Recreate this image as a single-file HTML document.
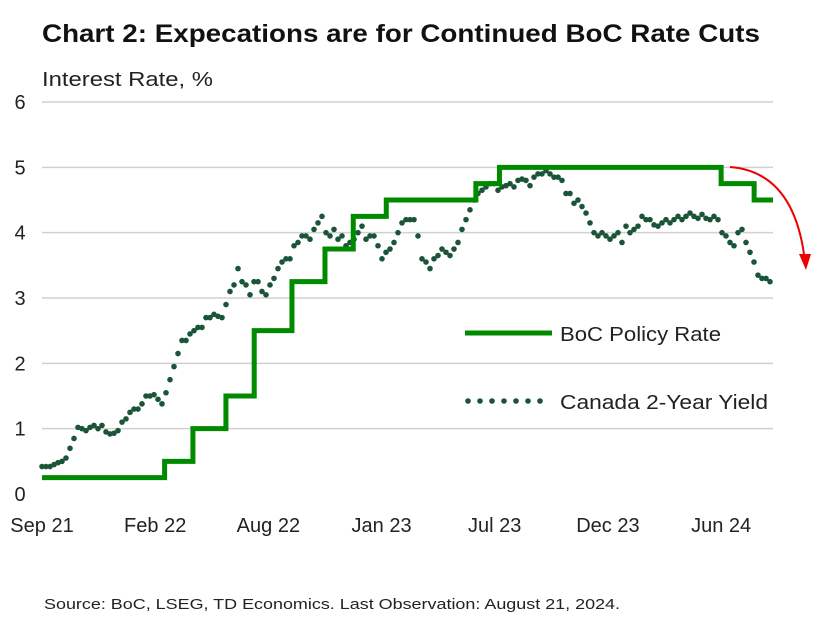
<!DOCTYPE html>
<html><head><meta charset="utf-8"><style>
body{margin:0;background:#fff;}
svg text{font-family:"Liberation Sans",sans-serif;}
</style></head><body>
<svg width="827" height="617" viewBox="0 0 827 617" xmlns="http://www.w3.org/2000/svg">
<text x="42" y="42" font-size="25" font-weight="bold" fill="#111" textLength="718" lengthAdjust="spacingAndGlyphs">Chart 2: Expecations are for Continued BoC Rate Cuts</text>
<text x="42" y="86" font-size="20" fill="#222" textLength="171" lengthAdjust="spacingAndGlyphs">Interest Rate, %</text>
<g id="grid"></g><g id="ylabels"></g><g id="xlabels"></g>
<g id="yield"></g>
<path id="policy" fill="none" stroke="#008a00" stroke-width="5"/>
<g>
<line x1="465" y1="333" x2="552" y2="333" stroke="#008a00" stroke-width="5"/>
<text x="560" y="341" font-size="20" fill="#222" textLength="161" lengthAdjust="spacingAndGlyphs">BoC Policy Rate</text>
<g id="legdots"></g>
<text x="560" y="409" font-size="20" fill="#222" textLength="208" lengthAdjust="spacingAndGlyphs">Canada 2-Year Yield</text>
</g>
<path d="M730,167 Q795,172 805,262" fill="none" stroke="#e00" stroke-width="2"/>
<polygon points="799,254 811,254 806,270" fill="#e00"/>
<text x="44" y="609" font-size="15" fill="#222" textLength="576" lengthAdjust="spacingAndGlyphs">Source: BoC, LSEG, TD Economics. Last Observation: August 21, 2024.</text>
</svg>
<script>
const yTicks=[0,1,2,3,4,5,6];
const xTickDays=[0,168,336,504,672,840,1008];
const xTickLabels=["Sep 21","Feb 22","Aug 22","Jan 23","Jul 23","Dec 23","Jun 24"];
const policyDays=[0,182,224,273,315,371,420,462,511,644,679,1008,1057,1085];
const policyRates=[0.25,0.5,1.0,1.5,2.5,3.25,3.75,4.25,4.5,4.75,5.0,4.75,4.5,4.5];
const yieldStepDays=5.937;
const yieldValues=[0.42,0.42,0.42,0.45,0.48,0.5,0.55,0.7,0.85,1.02,1.0,0.97,1.02,1.05,1.0,1.05,0.95,0.92,0.93,0.97,1.1,1.15,1.25,1.3,1.3,1.38,1.5,1.5,1.52,1.45,1.38,1.55,1.75,1.95,2.15,2.35,2.35,2.45,2.5,2.55,2.55,2.7,2.7,2.75,2.72,2.7,2.9,3.1,3.2,3.45,3.25,3.2,3.05,3.25,3.25,3.1,3.05,3.2,3.3,3.45,3.55,3.6,3.6,3.8,3.85,3.95,3.95,3.9,4.05,4.15,4.25,4.0,3.95,4.05,3.9,3.95,3.8,3.85,3.9,4.0,4.1,3.9,3.95,3.95,3.8,3.6,3.7,3.75,3.85,4.0,4.15,4.2,4.2,4.2,3.95,3.6,3.55,3.45,3.6,3.65,3.75,3.7,3.65,3.75,3.85,4.05,4.2,4.35,4.5,4.6,4.65,4.7,4.75,4.75,4.65,4.7,4.72,4.75,4.7,4.8,4.82,4.8,4.72,4.85,4.9,4.9,4.95,4.9,4.85,4.85,4.8,4.6,4.6,4.45,4.5,4.4,4.3,4.15,4.0,3.95,4.0,3.95,3.9,3.95,4.0,3.85,4.1,4.0,4.05,4.1,4.25,4.2,4.2,4.12,4.1,4.15,4.2,4.15,4.2,4.25,4.2,4.25,4.3,4.25,4.22,4.28,4.22,4.2,4.25,4.2,4.0,3.95,3.85,3.8,4.0,4.05,3.85,3.7,3.55,3.35,3.3,3.3,3.25];
const NS="http://www.w3.org/2000/svg";
const X0=42,X1=773,D1=1085,Y0=494,YU=65.33;
const xs=d=>X0+(X1-X0)*d/D1;
const ys=v=>Y0-v*YU;
function mk(tag,attrs,parent,txt){const e=document.createElementNS(NS,tag);for(const k in attrs)e.setAttribute(k,attrs[k]);if(txt!==undefined)e.textContent=txt;document.getElementById(parent).appendChild(e);return e;}
yTicks.forEach(t=>{
 if(t>0){const g=mk('line',{x1:X0,x2:X1,y1:ys(t),y2:ys(t),stroke:'#d0d0d0','stroke-width':1.5},'grid');
 
 }
 const l=mk('text',{x:20,y:ys(t)+7,'font-size':20,fill:'#222','text-anchor':'middle'},'ylabels',String(t));
 
 
});
xTickDays.forEach((d,i)=>{
 const l=mk('text',{x:xs(d),y:532,'font-size':20,fill:'#222','text-anchor':'middle'},'xlabels',xTickLabels[i]);
 
 
});
let p='';
policyDays.forEach((d,i)=>{
 if(i===0)p+='M'+xs(d)+','+ys(policyRates[i]);
 else p+=' L'+xs(d)+','+ys(policyRates[i-1])+' L'+xs(d)+','+ys(policyRates[i]);
});
document.getElementById('policy').setAttribute('d',p);
yieldValues.forEach((v,i)=>{
 const c=mk('circle',{cx:xs(i*yieldStepDays),cy:ys(v),r:2.8,fill:'#1b5538'},'yield');
 
 
});
for(let i=0;i<7;i++){
 const c=mk('circle',{cx:468+i*12,cy:401,r:2.8,fill:'#1b5538'},'legdots');
 
 
}
</script>
</body></html>
